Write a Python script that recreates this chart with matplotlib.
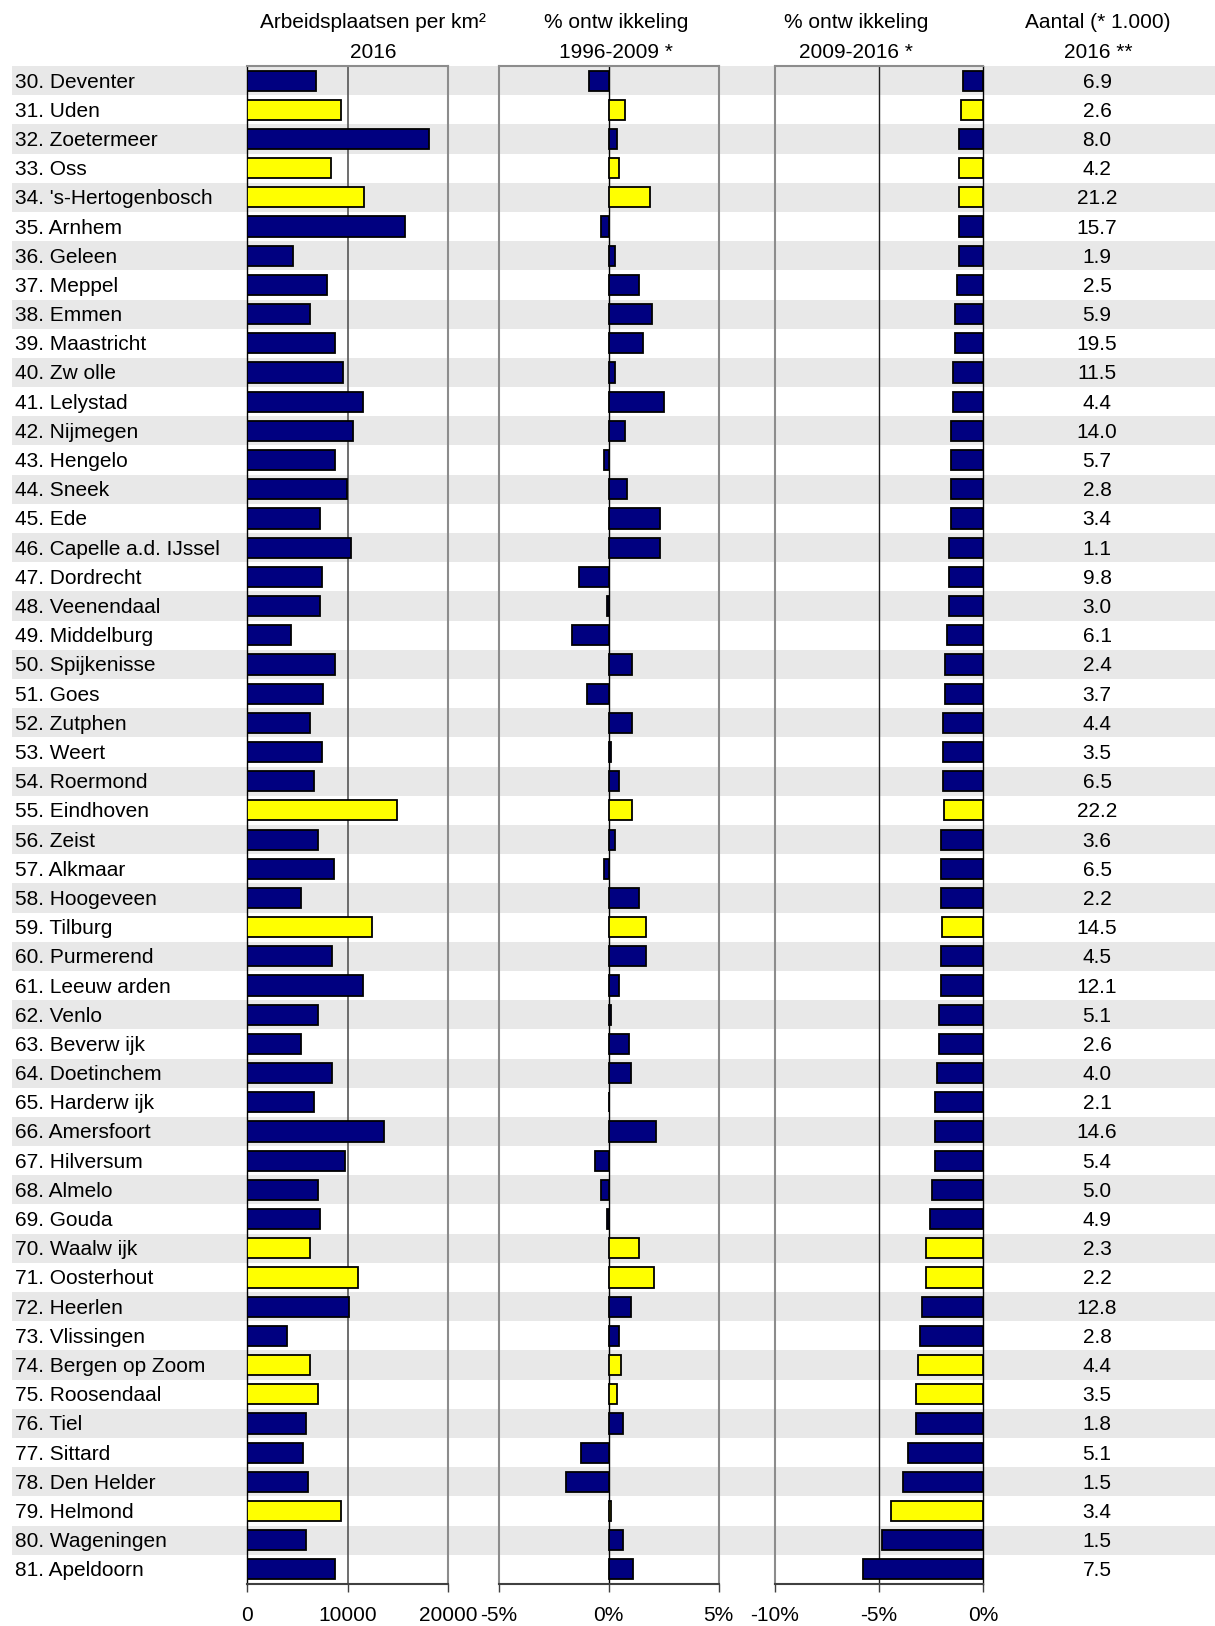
import matplotlib
matplotlib.use("Agg")
import matplotlib.pyplot as plt
import numpy as np

plt.rcParams['font.family'] = ['Liberation Sans', 'DejaVu Sans']

# Data
cities = ["30. Deventer", "31. Uden", "32. Zoetermeer", "33. Oss", "34. 's-Hertogenbosch",
          "35. Arnhem", "36. Geleen", "37. Meppel", "38. Emmen", "39. Maastricht",
          "40. Zw olle", "41. Lelystad", "42. Nijmegen", "43. Hengelo", "44. Sneek",
          "45. Ede", "46. Capelle a.d. IJssel", "47. Dordrecht", "48. Veenendaal", "49. Middelburg",
          "50. Spijkenisse", "51. Goes", "52. Zutphen", "53. Weert", "54. Roermond",
          "55. Eindhoven", "56. Zeist", "57. Alkmaar", "58. Hoogeveen", "59. Tilburg",
          "60. Purmerend", "61. Leeuw arden", "62. Venlo", "63. Beverw ijk", "64. Doetinchem",
          "65. Harderw ijk", "66. Amersfoort", "67. Hilversum", "68. Almelo", "69. Gouda",
          "70. Waalw ijk", "71. Oosterhout", "72. Heerlen", "73. Vlissingen", "74. Bergen op Zoom",
          "75. Roosendaal", "76. Tiel", "77. Sittard", "78. Den Helder", "79. Helmond",
          "80. Wageningen", "81. Apeldoorn"]

jobs_per_km2 = [6820, 9300, 18050, 8340, 11620, 15730, 4500, 7980, 6260, 8770,
                9540, 11490, 10500, 8770, 9900, 7190, 10330, 7420, 7190, 4300,
                8770, 7580, 6260, 7420, 6660, 14930, 7020, 8580, 5300, 12420,
                8380, 11490, 7020, 5300, 8380, 6620, 13610, 9730, 7020, 7190,
                6260, 11060, 10130, 3940, 6260, 6990, 5890, 5500, 6060, 9300,
                5890, 8770]

growth_1996_2009 = [-0.88, 0.73, 0.38, 0.46, 1.88, -0.37, 0.29, 1.36, 1.98, 1.54,
                    0.30, 2.53, 0.75, -0.20, 0.82, 2.33, 2.33, -1.34, -0.10, -1.69,
                    1.08, -1.00, 1.08, 0.12, 0.47, 1.08, 0.30, -0.20, 1.36, 1.69,
                    1.71, 0.47, 0.10, 0.91, 1.00, 0.00, 2.16, -0.63, -0.37, -0.10,
                    1.36, 2.06, 1.00, 0.47, 0.55, 0.37, 0.66, -1.25, -1.95, 0.10,
                    0.66, 1.10]

growth_2009_2016 = [-0.97, -1.05, -1.17, -1.15, -1.15, -1.15, -1.15, -1.25, -1.34, -1.34,
                    -1.44, -1.44, -1.54, -1.54, -1.54, -1.54, -1.65, -1.65, -1.65, -1.75,
                    -1.83, -1.83, -1.93, -1.93, -1.93, -1.91, -2.02, -2.02, -2.02, -1.99,
                    -2.02, -2.02, -2.12, -2.12, -2.20, -2.30, -2.30, -2.30, -2.48, -2.57,
                    -2.74, -2.74, -2.94, -3.04, -3.13, -3.23, -3.23, -3.60, -3.86, -4.45,
                    -4.84, -5.78]

jobs_2016 = [6.9, 2.6, 8.0, 4.2, 21.2, 15.7, 1.9, 2.5, 5.9, 19.5,
             11.5, 4.4, 14.0, 5.7, 2.8, 3.4, 1.1, 9.8, 3.0, 6.1,
             2.4, 3.7, 4.4, 3.5, 6.5, 22.2, 3.6, 6.5, 2.2, 14.5,
             4.5, 12.1, 5.1, 2.6, 4.0, 2.1, 14.6, 5.4, 5.0, 4.9,
             2.3, 2.2, 12.8, 2.8, 4.4, 3.5, 1.8, 5.1, 1.5, 3.4,
             1.5, 7.5]

highlighted = ["31. Uden", "33. Oss", "34. 's-Hertogenbosch", "55. Eindhoven", "59. Tilburg",
               "70. Waalw ijk", "71. Oosterhout", "74. Bergen op Zoom", "75. Roosendaal",
               "79. Helmond"]

W, H = 1215, 1626
fig = plt.figure(figsize=(W / 100, H / 100), dpi=100)


def px_axes(x0, y0, x1, y1):
    return fig.add_axes([x0 / W, 1 - y1 / H, (x1 - x0) / W, (y1 - y0) / H])


def px_text(x, y, s, **kw):
    fig.text(x / W, 1 - y / H, s, **kw)


n = len(cities)
rows = np.arange(n)
top, bottom = 66, 1584
fs = 15
colors = ['#ffff00' if c in highlighted else '#000080' for c in cities]

# background bands, labels and counts
bg = px_axes(0, top, W, bottom)
bg.set_xlim(0, W)
bg.set_ylim(n - 0.5, -0.5)
bg.axis('off')
bg.barh(rows[::2], W - 12, left=12, height=1, color='#e8e8e8', linewidth=0)
for i in rows:
    bg.text(15, i + 0.05, cities[i], ha='left', va='center', fontsize=fs)
    bg.text(1097, i + 0.05, f"{jobs_2016[i]:.1f}", ha='center', va='center', fontsize=fs)

# headers
px_text(373, 23, "Arbeidsplaatsen per km²", ha='center', va='center', fontsize=fs)
px_text(373, 53, "2016", ha='center', va='center', fontsize=fs)
px_text(616, 23, "% ontw ikkeling", ha='center', va='center', fontsize=fs)
px_text(616, 53, "1996-2009 *", ha='center', va='center', fontsize=fs)
px_text(856, 23, "% ontw ikkeling", ha='center', va='center', fontsize=fs)
px_text(856, 53, "2009-2016 *", ha='center', va='center', fontsize=fs)
px_text(1098, 23, "Aantal (* 1.000)", ha='center', va='center', fontsize=fs)
px_text(1098, 53, "2016 **", ha='center', va='center', fontsize=fs)


def setup(ax, xlim, ticks, labels):
    ax.set_facecolor('none')
    ax.set_xlim(*xlim)
    ax.set_ylim(n - 0.5, -0.5)
    ax.set_yticks([])
    ax.set_xticks(ticks)
    ax.set_xticklabels(labels, fontsize=fs)
    ax.tick_params(axis='x', length=6, width=1, color='#404040', pad=10)
    for s in ['top', 'left', 'right']:
        ax.spines[s].set_color('#8c8c8c')
        ax.spines[s].set_linewidth(1.5)
    ax.spines['bottom'].set_color('#404040')
    ax.spines['bottom'].set_linewidth(1.5)


ax1 = px_axes(247.3, top, 448.3, bottom)
setup(ax1, (0, 20000), [0, 10000, 20000], ['0', '10000', '20000'])
ax1.spines['left'].set_color('black')
ax1.spines['left'].set_linewidth(1)
ax1.axvline(10000, color='#555555', lw=1.2, zorder=0)
ax1.barh(rows, jobs_per_km2, height=0.69, color=colors, edgecolor='black', linewidth=1.3, zorder=3)

ax2 = px_axes(498.7, top, 718.7, bottom)
setup(ax2, (-5, 5), [-5, 0, 5], ['-5%', '0%', '5%'])
ax2.axvline(0, color='black', lw=1, zorder=1)
ax2.barh(rows, growth_1996_2009, height=0.69, color=colors, edgecolor='black', linewidth=1.3, zorder=3)

ax3 = px_axes(775, top, 983.3, bottom)
setup(ax3, (-10, 0), [-10, -5, 0], ['-10%', '-5%', '0%'])
ax3.spines['right'].set_color('black')
ax3.spines['right'].set_linewidth(1)
ax3.axvline(-5, color='#202020', lw=1, zorder=0)
ax3.barh(rows, growth_2009_2016, height=0.69, color=colors, edgecolor='black', linewidth=1.3, zorder=3)

fig.savefig("out.png", dpi=100)
